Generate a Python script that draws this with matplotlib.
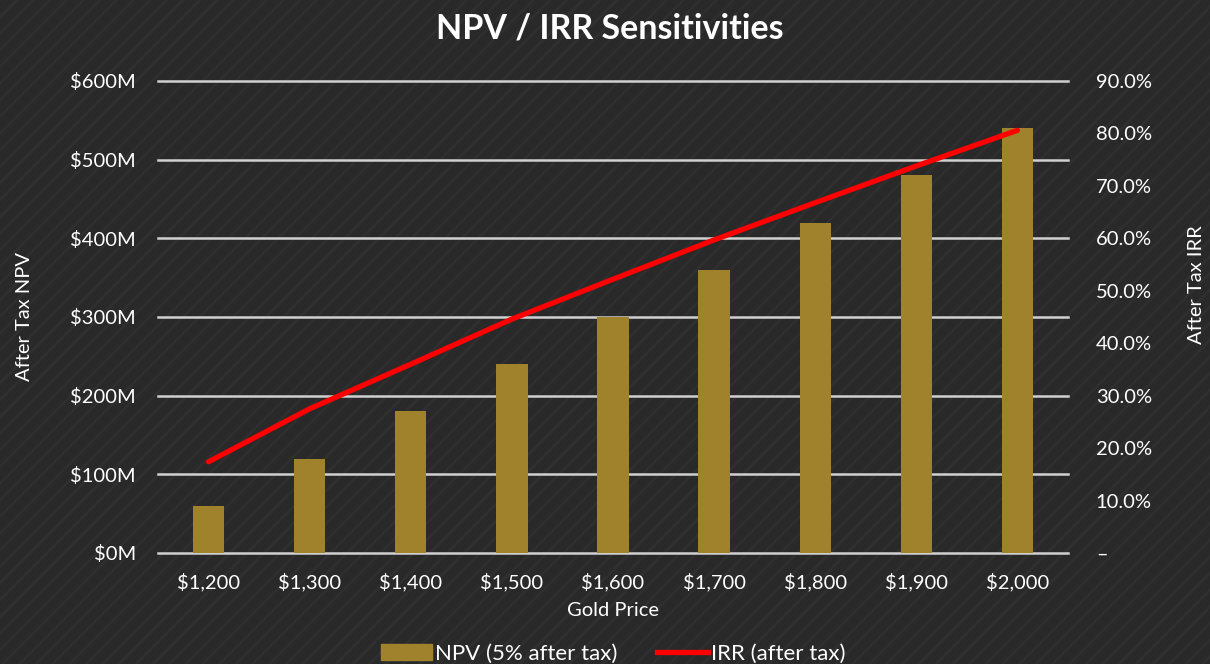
import numpy as np
import matplotlib.pyplot as plt
from matplotlib.patches import Rectangle
from matplotlib.ticker import FuncFormatter

# Datos
gold_price = ["$1,200", "$1,300", "$1,400", "$1,500", "$1,600", "$1,700", "$1,800", "$1,900", "$2,000"]
npv_musd = [60, 120, 180, 240, 300, 360, 420, 480, 540]
irr_pct = [17.4, 27.5, 36.0, 44.6, 52.2, 59.7, 66.8, 73.8, 80.6]

BG = "#292929"
GOLD = "#a0822d"
GRID = "#d0d0d0"
TXT = "#ffffff"
FS = 14.5

plt.rcParams["font.family"] = ["Lato", "DejaVu Sans"]
plt.rcParams["hatch.color"] = "#2f2f2f"
plt.rcParams["hatch.linewidth"] = 2.0

fig = plt.figure(figsize=(12.1, 6.64), dpi=100, facecolor=BG)
# fondo rayado
fig.patches.append(Rectangle((0, 0), 1, 1, transform=fig.transFigure, facecolor=BG,
                             edgecolor="#2f2f2f", hatch="//", lw=0, zorder=-10))

ax1 = fig.add_axes([158 / 1210, 1 - 553 / 664, 910 / 1210, 472 / 664])
ax1.set_facecolor("none")
ax2 = ax1.twinx()
ax2.set_facecolor("none")

x = np.arange(len(gold_price))
ax1.bar(x, npv_musd, width=0.31, color=GOLD, zorder=3)
ax1.set_xlim(-0.5, len(x) - 0.5)
ax1.set_ylim(0, 600)
ax1.set_yticks(np.arange(0, 601, 100))
ax1.yaxis.set_major_formatter(FuncFormatter(lambda v, p: f"${v:.0f}M"))
ax1.set_xticks(x)
ax1.set_xticklabels(gold_price)
ax1.grid(axis="y", color=GRID, lw=1.8, zorder=0)
for gl in ax1.get_ygridlines():
    gl.set_clip_on(False)
ax1.set_axisbelow(True)

ax2.plot(x, irr_pct, color="#ff0000", lw=3.8, solid_capstyle="round", zorder=4)
ax2.set_ylim(0, 90)
ax2.set_yticks(np.arange(0, 91, 10))
ax2.yaxis.set_major_formatter(FuncFormatter(lambda v, p: "–" if v == 0 else f"{v:.1f}%"))

for ax in (ax1, ax2):
    for s in ax.spines.values():
        s.set_visible(False)
    ax.tick_params(length=0, colors=TXT, labelsize=FS)
ax1.tick_params(axis="y", pad=16)
ax1.tick_params(axis="x", pad=14)
ax2.tick_params(axis="y", pad=20)

ax1.set_xlabel("Gold Price", color=TXT, fontsize=FS, labelpad=8)
fig.text(25 / 1210, 1 - 317 / 664, "After Tax NPV", rotation=90, ha="center", va="center",
         color=TXT, fontsize=FS)
fig.text(1197 / 1210, 1 - 285 / 664, "After Tax IRR", rotation=90, ha="center", va="center",
         color=TXT, fontsize=FS)

fig.text(0.5 + 5 / 1210, 1 - 28 / 664, "NPV / IRR Sensitivities", ha="center", va="center",
         color=TXT, fontsize=24.5, fontweight="bold")

h1 = Rectangle((0, 0), 1, 1, color=GOLD)
h2 = plt.Line2D([], [], color="#ff0000", lw=3.8)
fig.legend([h1, h2], ["NPV (5% after tax)", "IRR (after tax)"], loc="center",
           bbox_to_anchor=(0.5 + 8 / 1210, 1 - 654 / 664), ncol=2, frameon=False, fontsize=16,
           labelcolor=TXT, handlelength=2.3, handletextpad=0.12, columnspacing=1.8)

fig.savefig("out.png", dpi=100, facecolor=BG)
